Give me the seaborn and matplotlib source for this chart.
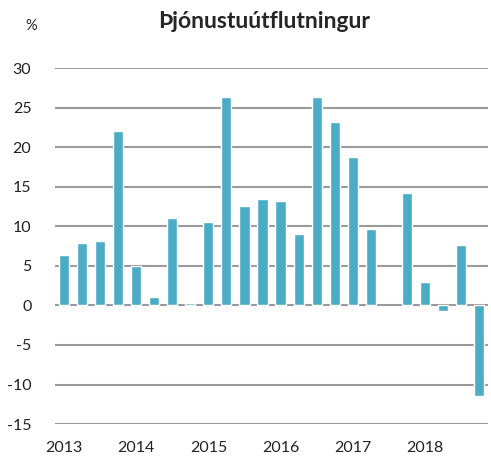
import numpy as np
import pandas as pd
import seaborn as sns
import matplotlib.pyplot as plt

quarters = [f"{y}Q{q}" for y in range(2013, 2019) for q in range(1, 5)]
values = [6.4, 7.9, 8.1, 22.1,
          5.0, 1.1, 11.1, 0.35,
          10.5, 26.4, 12.6, 13.4,
          13.2, 9.0, 26.4, 23.2,
          18.8, 9.7, np.nan, 14.2,
          2.9, -0.7, 7.6, -11.4]
year_labels = ["2013", "2014", "2015", "2016", "2017", "2018"]
yticks = [-15, -10, -5, 0, 5, 10, 15, 20, 25, 30]

df = pd.DataFrame({"quarter": quarters, "value": values})

sns.set_style("white")
plt.rcParams["font.family"] = ["Lato", "DejaVu Sans"]

fig = plt.figure(figsize=(4.91, 4.57), dpi=100)
ax = fig.add_axes([0.112, 0.072, 0.882, 0.779])

for t in yticks:
    ax.axhline(t, color="#9a9a9a", lw=1.5, zorder=0)

sns.barplot(data=df, x="quarter", y="value", order=quarters, color="#4bacc6",
            saturation=1, width=0.56, ax=ax, zorder=2)

ax.set_xlim(-0.5, len(quarters) - 0.5)
ax.set_ylim(-15, 30)
ax.set_yticks(yticks)
ax.set_yticklabels([str(t) for t in yticks], fontsize=11.5, color="#222222")
ax.set_xticks([0, 4, 8, 12, 16, 20])
ax.set_xticklabels(year_labels, fontsize=11.5, color="#222222")
ax.tick_params(axis="x", length=0, pad=12)
ax.tick_params(axis="y", length=0, pad=17)
ax.set_xlabel("")
ax.set_ylabel("")
sns.despine(ax=ax, left=True, bottom=True)

fig.text(0.537, 0.952, "Þjónustuútflutningur", ha="center", va="center",
         fontsize=16.5, fontweight="bold")
fig.text(0.063, 0.944, "%", ha="center", va="center", fontsize=10.5)

fig.savefig("out.png", dpi=100)
